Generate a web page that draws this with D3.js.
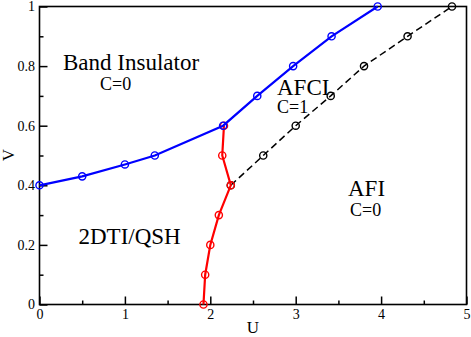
<html>
<head>
<script src="https://cdn.jsdelivr.net/npm/d3@7"></script>
<style>
body { margin: 0; background: #fff; }
svg text { font-family: "Liberation Serif", "Times New Roman", Times, "DejaVu Serif", serif; fill: #000; }
</style>
</head>
<body>
<svg id="chart" width="471" height="337"></svg>
<script>
// phase boundaries
var blueU = [0, 0.5, 1.0, 1.35, 2.15, 2.55, 2.97, 3.42, 3.96];
var blueV = [0.4, 0.43, 0.47, 0.5, 0.6, 0.7, 0.8, 0.9, 1.0];

var redU = [1.92, 1.94, 2.0, 2.1, 2.24, 2.14, 2.16];
var redV = [0.0, 0.1, 0.2, 0.3, 0.4, 0.5, 0.6];

var blackU = [2.24, 2.62, 3.0, 3.41, 3.8, 4.31, 4.83];
var blackV = [0.4, 0.5, 0.6, 0.7, 0.8, 0.9, 1.0];

var xTicks = [0, 1, 2, 3, 4, 5];
var yTicks = [0, 0.2, 0.4, 0.6, 0.8, 1];
var xMinor = [0.5, 1.5, 2.5, 3.5, 4.5];
var yMinor = [0.1, 0.3, 0.5, 0.7, 0.9];

var svg = d3.select("#chart");
var serif = '"Liberation Serif", "Times New Roman", Times, "DejaVu Serif", serif';

var x = d3.scaleLinear().domain([0, 5]).range([39.5, 466.5]);
var y = d3.scaleLinear().domain([0, 1]).range([304.5, 6.5]);

function pts(us, vs) {
  return us.map(function(u, i) { return [u, vs[i]]; });
}

var line = d3.line()
  .x(function(d) { return x(d[0]); })
  .y(function(d) { return y(d[1]); });

// frame
svg.append("rect")
  .attr("x", x(0)).attr("y", y(1))
  .attr("width", x(5) - x(0)).attr("height", y(0) - y(1))
  .attr("fill", "none").attr("stroke", "#000").attr("stroke-width", 1.6);

// axes, ticks pointing inward
svg.append("g").attr("transform", "translate(0," + y(0) + ")")
  .call(d3.axisBottom(x).tickValues(xTicks).tickSize(-8).tickPadding(4.5).tickFormat(d3.format("")));
svg.append("g").attr("transform", "translate(0," + y(0) + ")")
  .call(d3.axisBottom(x).tickValues(xMinor).tickSize(-4).tickFormat(""));
svg.append("g").attr("transform", "translate(" + x(0) + ",0)")
  .call(d3.axisLeft(y).tickValues(yTicks).tickSize(-8).tickPadding(4.5).tickFormat(d3.format("")));
svg.append("g").attr("transform", "translate(" + x(0) + ",0)")
  .call(d3.axisLeft(y).tickValues(yMinor).tickSize(-4).tickFormat(""));

svg.selectAll(".domain").remove();
svg.selectAll("g").attr("font-family", serif);
svg.selectAll(".tick line").attr("stroke", "#000").attr("stroke-width", 1.5);
svg.selectAll(".tick text").attr("font-size", 14).attr("fill", "#000");

// axis titles
svg.append("text").attr("x", x(2.5)).attr("y", 333).attr("font-family", serif)
  .attr("text-anchor", "middle").attr("font-size", 17).text("U");
svg.append("text").attr("transform", "translate(13.5,155) rotate(-90)").attr("font-family", serif)
  .attr("text-anchor", "middle").attr("font-size", 17).text("V");

function series(us, vs, color, dash) {
  var data = pts(us, vs);
  svg.append("path").datum(data)
    .attr("d", line).attr("fill", "none")
    .attr("stroke", color).attr("stroke-width", dash ? 1.5 : 2.2)
    .attr("stroke-dasharray", dash ? "7,4" : null);
  svg.append("g").selectAll("circle").data(data).enter().append("circle")
    .attr("cx", function(d) { return x(d[0]); })
    .attr("cy", function(d) { return y(d[1]); })
    .attr("r", 3.6)
    .attr("fill", "none").attr("stroke", color).attr("stroke-width", 1.4);
}

series(blackU, blackV, "#000", true);
series(redU, redV, "#ff0000", false);
series(blueU, blueV, "#0000ff", false);

// phase labels
function label(px, py, size, txt) {
  svg.append("text").attr("x", px).attr("y", py).attr("font-family", serif)
    .attr("font-size", size).text(txt);
}
label(63, 70, 23, "Band Insulator");
label(100, 90, 18, "C=0");
label(277, 95, 23, "AFCI");
label(277, 113, 18, "C=1");
label(348, 196, 23, "AFI");
label(350, 216, 18, "C=0");
label(78.5, 244, 23, "2DTI/QSH");
</script>
</body>
</html>
